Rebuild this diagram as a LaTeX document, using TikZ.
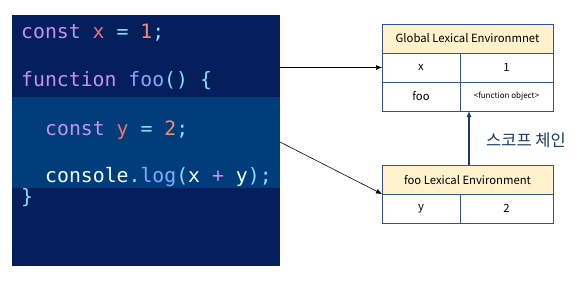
\documentclass[tikz,border=0pt]{standalone}
\usepackage{fontspec}
\usetikzlibrary{arrows.meta,calc}
\newfontfamily\codefont{DejaVu Sans Mono}
\newfontfamily\krfont{Noto Sans CJK KR}
\definecolor{bgdark}{HTML}{051E5C}
\definecolor{bgband}{HTML}{003D7A}
\definecolor{ckw}{HTML}{C792EA}
\definecolor{cvar}{HTML}{F07178}
\definecolor{cnum}{HTML}{F78C6C}
\definecolor{cpun}{HTML}{89DDFF}
\definecolor{cfn}{HTML}{82AAFF}
\definecolor{cpl}{HTML}{EEFFFF}
\definecolor{tblline}{HTML}{2F5597}
\definecolor{hdrfill}{HTML}{FFF2CC}
\definecolor{scopec}{HTML}{1F3864}
\begin{document}
\begin{tikzpicture}[x=1pt,y=-1pt,
  codeline/.style={anchor=base west, inner sep=0pt, font=\codefont\fontsize{19.8}{22}\selectfont},
  cell/.style={draw=tblline, line width=0.8pt, anchor=north west, inner sep=0pt, outer sep=0pt,
    minimum height=29pt, font=\krfont\fontsize{11.3}{13}\selectfont, text=black},
  hdr/.style={cell, fill=hdrfill, minimum width=171pt},
  kcell/.style={cell, minimum width=78pt},
  vcell/.style={cell, minimum width=93pt},
  arr/.style={-{Latex[length=6pt,width=5pt]}, line width=0.6pt, black},
  scopearr/.style={-{Latex[length=6pt,width=5pt]}, line width=1.1pt, scopec}
]
\useasboundingbox (0,0) rectangle (580,289);
% code panel
\node[fill=bgdark, inner sep=0pt, outer sep=0pt, minimum width=268pt, minimum height=251pt, anchor=north west] (code) at (12,15) {};
\fill[bgband] (12,97) rectangle (280,188);
\node[codeline] (l1) at (21,38) {\textcolor{ckw}{const} \textcolor{cvar}{x} \textcolor{cpun}{=} \textcolor{cnum}{1}\textcolor{cpun}{;}};
\node[codeline] (l2) at (21,86) {\textcolor{ckw}{function} \textcolor{cfn}{foo}\textcolor{cpun}{()} \textcolor{cpun}{\{}};
\node[codeline] (l3) at (45,135) {\textcolor{ckw}{const} \textcolor{cvar}{y} \textcolor{cpun}{=} \textcolor{cnum}{2}\textcolor{cpun}{;}};
\node[codeline] (l4) at (45,182) {\textcolor{cpl}{console}\textcolor{cpun}{.}\textcolor{cfn}{log}\textcolor{cpun}{(}\textcolor{cpl}{x} \textcolor{ckw}{+} \textcolor{cpl}{y}\textcolor{cpun}{);}};
\node[codeline] (l5) at (21,203) {\textcolor{cpun}{\}}};
% global table
\node[hdr] (gh) at (382,24) {Global Lexical Environmnet};
\node[kcell] (gx) at (382,53) {x};
\node[vcell] (g1) at (460,53) {1};
\node[kcell] (gfoo) at (382,82) {foo};
\node[vcell, font=\krfont\fontsize{8}{10}\selectfont] (gfo) at (460,82) {<function object>};
% foo table
\node[hdr] (fh) at (382,165) {foo Lexical Environment};
\node[kcell] (fy) at (382,194) {y};
\node[vcell] (f2) at (460,194) {2};
% connectors
\coordinate (a2s) at (280,142);
\draw[arr] (code.east |- gx.west) -- (gx.west);
\draw[arr] (a2s) -- (fh.south west);
\draw[scopearr] ([xshift=1.5pt]fh.north) -- ([xshift=1.5pt]fh.north |- gfo.south);
\node[font=\krfont\fontsize{16.5}{18}\selectfont, text=scopec, anchor=center] (scl) at (526,140) {스코프 체인};
\end{tikzpicture}
\end{document}
